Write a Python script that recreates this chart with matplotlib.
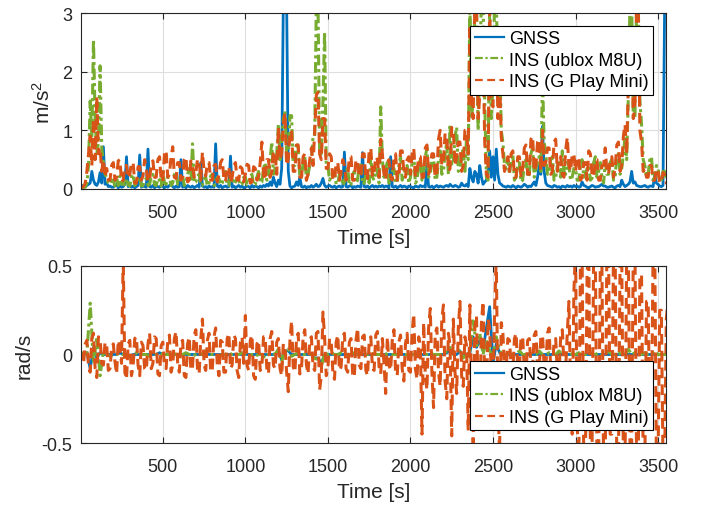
import numpy as np
import matplotlib
matplotlib.use("Agg")
import matplotlib.pyplot as plt

plt.rcParams['font.family'] = ['Liberation Sans', 'DejaVu Sans']
plt.rcParams['mathtext.fontset'] = 'custom'
plt.rcParams['mathtext.rm'] = 'Liberation Sans'
plt.rcParams['mathtext.it'] = 'Liberation Sans'

# sample times [s]: the noisy series every 10 s, the quiet ones every 20 s
time10 = np.arange(360) * 10
time20 = np.arange(180) * 20

labels = ['GNSS', 'INS (ublox M8U)', 'INS (G Play Mini)']

# --- acceleration error [m/s^2], 10 s samples ---
acc_gnss = [
    0.05, 0.06, 0.05, 0.04, 0.06, 0.08, 0.10, 0.30, 0.15, 0.08, 0.06, 0.12, 0.28, 0.10, 0.72, 0.08, 0.10, 0.04, 0.05, 0.03,
    0.03, 0.06, 0.08, 0.02, 0.05, 0.03, 0.04, 0.08, 0.55, 0.04, 0.06, 0.03, 0.05, 0.02, 0.04, 0.06, 0.58, 0.03, 0.05, 0.04,
    0.03, 0.68, 0.04, 0.03, 0.06, 0.02, 0.05, 0.04, 0.03, 0.06, 0.04, 0.02, 0.05, 0.03, 0.06, 0.08, 0.04, 0.02, 0.05, 0.03,
    0.04, 0.50, 0.03, 0.05, 0.02, 0.06, 0.04, 0.03, 0.05, 0.02, 0.04, 0.06, 0.03, 0.45, 0.05, 0.03, 0.04, 0.02, 0.05, 0.03,
    0.04, 0.03, 0.77, 0.05, 0.03, 0.06, 0.02, 0.04, 0.05, 0.03, 0.04, 0.56, 0.03, 0.05, 0.02, 0.04, 0.06, 0.03, 0.05, 0.02,
    0.03, 0.05, 0.04, 0.02, 0.06, 0.03, 0.05, 0.04, 0.02, 0.05, 0.03, 0.06, 0.04, 0.08, 0.05, 0.12, 0.06, 0.20, 0.10, 0.04,
    0.15, 0.08, 0.35, 3.20, 3.20, 3.20, 0.30, 0.05, 0.02, 0.04, 0.05, 0.12, 0.06, 0.20, 0.04, 0.03, 0.05, 0.02, 0.04, 0.03,
    0.06, 0.03, 0.05, 0.08, 0.04, 0.05, 0.10, 0.18, 0.06, 0.03, 0.05, 0.06, 0.04, 0.03, 0.05, 0.02, 0.04, 0.05, 0.03, 0.04,
    0.63, 0.04, 0.03, 0.05, 0.06, 0.02, 0.04, 0.03, 0.05, 0.04, 0.03, 0.62, 0.04, 0.03, 0.05, 0.02, 0.04, 0.06, 0.03, 0.05,
    0.03, 0.05, 0.04, 0.06, 0.03, 0.05, 0.04, 0.02, 0.55, 0.04, 0.03, 0.05, 0.02, 0.04, 0.06, 0.03, 0.05, 0.04, 0.02, 0.05,
    0.04, 0.03, 0.02, 0.05, 0.04, 0.03, 0.06, 0.04, 0.05, 0.03, 0.42, 0.04, 0.03, 0.05, 0.02, 0.04, 0.06, 0.03, 0.05, 0.04,
    0.03, 0.05, 0.06, 0.04, 0.08, 0.05, 0.04, 0.06, 0.05, 0.03, 0.04, 0.10, 0.06, 0.05, 0.08, 0.04, 0.35, 0.20, 0.12, 0.30,
    0.25, 0.10, 0.40, 0.20, 0.08, 0.12, 0.15, 0.30, 0.65, 0.20, 0.55, 0.15, 0.68, 0.25, 0.10, 0.08, 0.05, 0.04, 0.03, 0.05,
    0.04, 0.03, 0.06, 0.04, 0.02, 0.05, 0.04, 0.03, 0.05, 0.08, 0.06, 0.03, 0.05, 0.04, 0.08, 0.12, 0.06, 0.20, 0.40, 0.25,
    1.07, 0.30, 0.10, 0.06, 0.05, 0.04, 0.03, 0.06, 0.05, 0.03, 0.04, 0.02, 0.05, 0.04, 0.03, 0.06, 0.04, 0.05, 0.03, 0.06,
    0.04, 0.05, 0.03, 0.04, 0.12, 0.06, 0.05, 0.03, 0.02, 0.04, 0.06, 0.05, 0.03, 0.04, 0.04, 0.06, 0.08, 0.05, 0.05, 0.03,
    0.03, 0.04, 0.05, 0.03, 0.02, 0.05, 0.06, 0.04, 0.15, 0.08, 0.04, 0.06, 0.08, 0.12, 0.30, 0.10, 0.12, 0.06, 0.05, 0.04,
    0.04, 0.05, 0.06, 0.04, 0.03, 0.05, 0.05, 0.04, 0.25, 0.10, 0.08, 0.05, 0.04, 0.06, 3.20, 3.20, 3.20, 3.20, 3.20, 3.20,
]
acc_ublox = [
    0.02, 0.02, 0.03, 0.03, 0.10, 0.40, 1.50, 0.90, 2.55, 1.20, 0.60, 0.80, 2.10, 0.70, 0.45, 0.25, 0.20, 0.10, 0.08, 0.15,
    0.15, 0.05, 0.20, 0.06, 0.22, 0.08, 0.12, 0.05, 0.18, 0.07, 0.05, 0.20, 0.25, 0.06, 0.10, 0.18, 0.20, 0.05, 0.06, 0.15,
    0.18, 0.06, 0.08, 0.22, 0.25, 0.07, 0.06, 0.18, 0.15, 0.05, 0.30, 0.10, 0.08, 0.20, 0.20, 0.06, 0.10, 0.25, 0.28, 0.08,
    0.08, 0.20, 0.22, 0.06, 0.10, 0.25, 0.35, 0.12, 0.77, 0.10, 0.12, 0.22, 0.25, 0.06, 0.06, 0.18, 0.20, 0.05, 0.10, 0.22,
    0.25, 0.06, 0.08, 0.20, 0.18, 0.07, 0.10, 0.25, 0.30, 0.06, 0.06, 0.20, 0.22, 0.08, 0.12, 0.18, 0.15, 0.06, 0.08, 0.20,
    0.20, 0.07, 0.10, 0.22, 0.25, 0.06, 0.07, 0.20, 0.30, 0.10, 0.12, 0.35, 0.45, 0.15, 0.20, 0.50, 0.80, 0.25, 0.35, 0.60,
    1.10, 0.50, 0.85, 1.20, 1.30, 0.60, 0.60, 1.25, 1.25, 0.40, 0.40, 0.80, 0.70, 0.20, 0.20, 0.45, 0.55, 0.15, 0.25, 0.40,
    0.45, 0.90, 0.90, 3.20, 3.20, 0.60, 0.60, 1.50, 2.68, 0.40, 0.40, 0.15, 0.20, 0.30, 0.30, 0.08, 0.10, 0.25, 0.25, 0.06,
    0.12, 0.30, 0.35, 0.06, 0.08, 0.25, 0.30, 0.10, 0.15, 0.40, 0.45, 0.08, 0.10, 0.25, 0.28, 0.10, 0.55, 0.20, 0.15, 0.35,
    0.30, 0.10, 1.40, 0.50, 0.20, 0.35, 0.45, 0.10, 0.15, 0.30, 0.35, 0.12, 0.10, 0.40, 0.55, 0.15, 0.25, 0.35, 0.40, 0.10,
    0.20, 0.45, 0.60, 0.10, 0.15, 0.40, 0.50, 0.15, 0.30, 0.55, 0.70, 0.20, 0.25, 0.50, 0.55, 0.15, 0.20, 0.50, 0.65, 0.25,
    0.30, 0.60, 0.80, 0.25, 1.10, 0.40, 0.45, 0.90, 1.05, 0.30, 0.35, 0.55, 0.70, 0.30, 0.90, 0.50, 3.20, 1.20, 1.50, 3.20,
    3.20, 1.00, 2.20, 3.20, 3.20, 1.50, 0.20, 0.15, 3.20, 1.20, 1.80, 3.20, 3.20, 2.00, 2.50, 1.00, 0.80, 0.40, 0.35, 0.50,
    0.25, 0.50, 0.60, 0.15, 0.20, 0.40, 0.45, 0.12, 0.15, 0.45, 0.50, 0.20, 0.25, 0.60, 0.70, 0.20, 0.35, 0.50, 0.55, 0.30,
    1.90, 0.80, 0.60, 0.25, 0.30, 0.50, 0.55, 0.15, 0.20, 0.40, 0.45, 0.20, 0.65, 0.30, 0.25, 0.45, 0.40, 0.15, 0.20, 0.35,
    0.35, 0.15, 0.15, 0.40, 0.50, 0.20, 0.25, 0.35, 0.40, 0.15, 0.18, 0.45, 0.55, 0.20, 0.30, 0.45, 0.20, 0.10, 0.45, 0.25,
    0.25, 0.45, 0.50, 0.15, 0.20, 0.55, 0.60, 0.25, 0.35, 0.60, 0.90, 0.50, 1.60, 3.20, 3.20, 1.20, 1.20, 3.20, 3.20, 1.50,
    1.10, 0.50, 0.40, 0.20, 0.25, 0.50, 0.55, 0.15, 0.20, 0.40, 0.35, 0.12, 0.15, 0.30, 0.30, 0.15, 0.20, 0.25, 0.25, 0.20,
]
acc_gplay = [
    0.02, 0.03, 0.04, 0.10, 0.30, 0.60, 0.90, 0.40, 1.20, 0.50, 1.57, 0.60, 0.70, 0.30, 0.50, 0.20, 0.35, 0.15, 0.15, 0.40,
    0.45, 0.15, 0.20, 0.48, 0.50, 0.12, 0.15, 0.40, 0.40, 0.18, 0.25, 0.45, 0.45, 0.10, 0.10, 0.38, 0.38, 0.15, 0.22, 0.50,
    0.35, 0.12, 0.15, 0.45, 0.48, 0.20, 0.20, 0.50, 0.55, 0.15, 0.12, 0.60, 0.66, 0.20, 0.25, 0.55, 0.72, 0.20, 0.18, 0.45,
    0.45, 0.15, 0.20, 0.50, 0.55, 0.12, 0.15, 0.48, 0.40, 0.20, 0.28, 0.50, 0.50, 0.15, 0.63, 0.30, 0.22, 0.45, 0.45, 0.15,
    0.15, 0.40, 0.42, 0.12, 0.25, 0.45, 0.50, 0.18, 0.12, 0.35, 0.38, 0.10, 0.20, 0.40, 0.45, 0.15, 0.15, 0.38, 0.35, 0.12,
    0.25, 0.42, 0.40, 0.10, 0.12, 0.38, 0.35, 0.15, 0.20, 0.45, 0.80, 0.25, 0.15, 0.50, 0.50, 0.20, 0.30, 0.65, 0.60, 0.25,
    1.05, 0.50, 0.60, 1.10, 1.30, 0.40, 0.50, 0.95, 1.00, 0.30, 0.30, 0.75, 0.75, 0.20, 0.20, 0.55, 0.60, 0.15, 0.25, 0.50,
    0.70, 0.40, 1.00, 1.60, 1.65, 0.60, 0.50, 1.20, 1.20, 0.35, 0.35, 0.60, 0.55, 0.15, 0.15, 0.45, 0.45, 0.15, 0.30, 0.50,
    0.40, 0.15, 0.20, 0.55, 0.55, 0.15, 0.15, 0.50, 0.48, 0.20, 0.25, 0.60, 0.60, 0.15, 0.18, 0.65, 0.70, 0.20, 0.30, 0.55,
    0.50, 0.20, 0.85, 0.60, 0.25, 0.15, 0.45, 0.50, 0.20, 0.15, 0.55, 0.60, 0.15, 0.20, 0.65, 0.65, 0.30, 0.20, 0.50, 0.55,
    0.25, 0.60, 0.70, 0.20, 0.30, 0.55, 0.55, 0.20, 0.20, 0.70, 0.75, 0.25, 0.35, 0.60, 0.60, 0.20, 0.25, 0.85, 1.00, 0.40,
    0.45, 0.95, 0.90, 0.30, 0.35, 1.05, 1.00, 0.40, 0.55, 0.80, 0.80, 0.30, 0.40, 1.00, 1.00, 0.60, 2.80, 1.50, 1.20, 3.20,
    3.20, 1.20, 1.60, 2.40, 2.40, 0.80, 0.25, 0.20, 3.20, 1.50, 1.40, 2.60, 2.60, 1.20, 1.90, 0.90, 0.60, 0.30, 0.40, 0.55,
    0.30, 0.60, 0.65, 0.20, 0.20, 0.55, 0.55, 0.20, 0.35, 0.70, 0.75, 0.25, 0.25, 0.85, 0.90, 0.30, 0.40, 0.80, 0.85, 0.30,
    1.00, 0.40, 0.45, 0.70, 0.70, 0.25, 0.30, 0.80, 0.85, 0.30, 0.55, 0.55, 0.25, 0.20, 0.65, 0.88, 0.40, 0.30, 0.60, 0.60,
    0.30, 0.50, 0.55, 0.15, 0.20, 0.45, 0.45, 0.15, 0.65, 0.60, 0.25, 0.20, 0.50, 0.50, 0.15, 0.15, 0.40, 0.40, 0.70, 0.30,
    0.25, 0.50, 0.55, 0.20, 0.35, 0.75, 0.80, 0.30, 0.40, 0.90, 1.10, 0.60, 1.80, 2.50, 2.70, 1.20, 1.40, 3.20, 3.20, 1.00,
    0.80, 0.30, 0.35, 0.20, 0.20, 0.40, 0.40, 0.15, 0.15, 0.35, 0.30, 0.10, 0.12, 0.28, 0.25, 0.10, 0.15, 0.22, 0.22, 0.15,
]

# --- angular rate error [rad/s] ---
# GNSS and ublox: 20 s samples
rate_gnss = [
    0.00, 0.00, 0.01, -0.08, 0.04, -0.02, 0.01, 0.00, 0.00, 0.00,
    0.00, 0.00, 0.01, 0.00, 0.00, -0.01, 0.00, 0.00, 0.00, 0.00,
    0.00, 0.00, 0.00, 0.00, 0.01, 0.00, 0.00, 0.00, 0.00, 0.00,
    0.00, 0.00, 0.00, 0.00, 0.00, 0.00, 0.00, 0.00, 0.01, 0.00,
    0.00, 0.00, 0.00, 0.00, 0.00, 0.00, 0.00, 0.00, 0.00, 0.00,
    0.00, 0.00, 0.00, 0.00, 0.00, 0.00, 0.00, 0.00, 0.00, 0.00,
    0.02, -0.03, 0.02, 0.02, 0.00, 0.00, 0.00, 0.00, 0.00, 0.00,
    0.00, -0.02, -0.02, -0.05, 0.00, 0.00, 0.00, 0.00, 0.00, 0.00,
    0.00, 0.00, 0.00, 0.00, 0.00, 0.00, 0.00, 0.00, 0.00, 0.00,
    0.00, 0.00, 0.00, 0.00, 0.00, 0.00, 0.00, 0.00, 0.00, 0.00,
    0.00, 0.00, 0.00, 0.00, 0.00, 0.00, 0.00, 0.00, 0.00, 0.00,
    0.00, 0.01, 0.02, 0.00, 0.00, 0.02, -0.01, 0.00, 0.01, 0.10,
    0.04, 0.08, 0.02, 0.15, 0.27, -0.05, 0.06, 0.01, 0.00, 0.00,
    0.00, 0.00, 0.00, 0.00, 0.00, 0.00, 0.00, 0.00, 0.00, 0.00,
    0.00, 0.00, 0.00, 0.00, 0.00, 0.00, 0.00, 0.00, 0.00, 0.00,
    0.00, 0.00, 0.00, 0.00, 0.00, 0.00, 0.00, 0.00, 0.00, 0.00,
    0.00, 0.00, 0.00, 0.00, 0.00, 0.00, 0.00, 0.00, 0.00, 0.00,
    0.00, 0.00, 0.00, 0.00, 0.00, 0.00, 0.00, 0.00, 0.00, 0.00,
]
rate_ublox = [
    0.00, 0.01, 0.00, 0.29, -0.05, 0.10, -0.12, 0.02, 0.00, -0.01,
    0.00, 0.00, 0.01, 0.00, 0.00, -0.01, 0.00, 0.01, 0.00, 0.00,
    0.00, -0.01, 0.00, 0.00, 0.01, 0.00, 0.00, 0.00, 0.01, 0.00,
    0.00, 0.00, 0.01, 0.00, -0.01, 0.00, 0.01, 0.00, 0.02, 0.00,
    0.00, 0.00, -0.01, 0.00, 0.00, 0.01, 0.00, 0.00, 0.00, 0.01,
    0.00, 0.00, 0.00, -0.01, 0.00, 0.00, -0.02, 0.00, 0.01, 0.00,
    0.03, -0.04, 0.02, 0.03, -0.01, 0.00, 0.01, 0.00, 0.00, 0.01,
    0.00, -0.02, -0.03, -0.07, 0.01, 0.00, 0.01, 0.00, 0.00, 0.01,
    0.00, 0.00, 0.00, 0.01, 0.00, 0.00, 0.00, 0.00, 0.01, 0.00,
    0.00, 0.00, 0.01, 0.00, 0.00, 0.00, 0.00, 0.01, 0.00, 0.00,
    0.00, 0.00, 0.01, 0.00, 0.00, 0.00, 0.01, 0.00, 0.00, 0.00,
    0.00, 0.02, 0.04, 0.00, 0.01, 0.03, -0.02, 0.00, 0.02, 0.19,
    0.05, 0.12, 0.00, 0.08, 0.02, 0.00, 0.10, 0.02, 0.00, 0.00,
    0.01, 0.00, 0.00, 0.02, 0.00, 0.00, 0.01, 0.00, 0.00, 0.02,
    0.00, 0.00, 0.01, 0.00, 0.00, 0.02, 0.00, 0.00, 0.01, 0.00,
    0.00, 0.01, 0.00, 0.00, 0.02, 0.00, 0.00, 0.01, 0.00, 0.00,
    0.02, 0.00, 0.00, 0.01, 0.00, 0.00, 0.03, 0.00, 0.01, 0.00,
    0.00, 0.01, 0.00, 0.00, 0.02, 0.00, 0.00, 0.00, 0.00, 0.00,
]
# G Play Mini: 10 s samples
rate_gplay = [
    0.03, -0.02, -0.05, 0.06, 0.08, -0.07, -0.10, 0.09, 0.12, -0.08, -0.13, 0.10, 0.09, -0.05, -0.06, 0.07, 0.05, -0.09, -0.08, 0.04,
    0.06, -0.04, -0.11, 0.08, 0.04, -0.05, 0.55, -0.10, -0.14, 0.06, 0.08, -0.12, -0.07, 0.09, 0.10, -0.06, -0.12, 0.07, 0.05, -0.08,
    -0.09, 0.06, 0.12, -0.08, -0.05, 0.10, 0.09, -0.11, -0.12, 0.05, 0.07, -0.07, -0.08, 0.08, 0.11, -0.10, -0.06, 0.09, 0.13, -0.05,
    -0.10, 0.07, 0.08, -0.12, -0.13, 0.06, 0.10, -0.09, -0.07, 0.11, 0.14, -0.08, -0.11, 0.09, 0.20, -0.06, -0.09, 0.08, 0.12, -0.10,
    -0.08, 0.10, 0.15, -0.06, -0.12, 0.08, 0.07, -0.10, -0.10, 0.09, 0.12, -0.08, -0.06, 0.11, 0.09, -0.09, -0.13, 0.07, 0.10, -0.05,
    0.22, -0.06, -0.09, 0.08, 0.11, -0.12, -0.14, 0.06, 0.08, -0.09, -0.07, 0.10, 0.10, -0.08, -0.11, 0.09, 0.13, -0.06, -0.08, 0.07,
    0.09, -0.08, -0.12, 0.06, 0.05, -0.10, -0.21, 0.08, 0.19, -0.07, -0.10, 0.09, 0.12, -0.11, -0.08, 0.10, 0.14, -0.06, -0.11, 0.08,
    0.10, -0.07, -0.09, 0.12, 0.13, -0.20, -0.12, 0.24, 0.10, -0.12, -0.08, 0.09, 0.08, -0.10, -0.14, 0.07, 0.11, -0.09, -0.07, 0.10,
    0.12, -0.08, -0.10, 0.07, 0.09, -0.11, -0.13, 0.08, 0.15, -0.06, -0.08, 0.10, 0.11, -0.09, -0.12, 0.07, 0.10, -0.08, -0.09, 0.11,
    0.13, -0.07, -0.11, 0.09, -0.05, -0.22, 0.10, -0.06, -0.09, 0.08, 0.14, -0.10, -0.12, 0.07, 0.11, -0.08, -0.15, 0.06, 0.12, -0.09,
    -0.10, 0.12, 0.23, -0.08, -0.14, 0.10, 0.05, -0.45, 0.18, -0.12, -0.20, 0.15, 0.26, -0.10, -0.30, 0.12, 0.15, -0.10, -0.18, 0.20,
    0.28, -0.15, -0.25, 0.12, 0.05, -0.46, 0.20, -0.10, -0.22, 0.15, 0.30, -0.12, -0.18, 0.10, 0.05, -0.43, 0.28, -0.20, -0.50, 0.15,
    0.22, -0.20, -0.35, 0.18, 0.30, -0.15, -0.28, 0.20, 0.15, -0.12, -0.20, 0.25, 0.55, -0.30, -0.55, 0.18, 0.12, -0.08, -0.10, 0.09,
    0.08, -0.06, -0.10, 0.09, 0.12, -0.07, -0.08, 0.10, 0.10, -0.09, -0.12, 0.08, 0.09, -0.06, -0.07, 0.11, 0.13, -0.08, -0.09, 0.10,
    0.11, -0.07, -0.08, 0.12, 0.15, -0.09, -0.10, 0.08, 0.09, -0.11, -0.12, 0.10, 0.14, -0.06, -0.09, 0.12, 0.30, -0.20, -0.45, 0.35,
    0.60, -0.40, -0.60, 0.55, 0.55, -0.60, -0.60, 0.45, 0.60, -0.50, -0.55, 0.60, 0.60, -0.60, -0.60, 0.50, 0.50, -0.60, -0.60, 0.60,
    0.60, -0.45, -0.45, 0.60, 0.60, -0.60, -0.60, 0.55, 0.55, -0.60, -0.60, 0.60, 0.60, -0.50, -0.50, 0.60, 0.60, -0.60, -0.60, 0.45,
    0.45, -0.60, -0.60, 0.30, 0.30, -0.40, -0.40, 0.60, 0.60, -0.60, -0.60, 0.25, 0.25, -0.60, -0.60, 0.20, 0.30, -0.10, -0.10, 0.05,
]

colors = ['#0072BD', '#77AC30', '#D95319']
dark = '#262626'
legend_loc = {'m/s$^2$': 'upper right', 'rad/s': 'lower right'}


def draw(ax, t_gnss, y_gnss, t_ublox, y_ublox, t_gplay, y_gplay):
    ax.plot(t_gnss, y_gnss, color=colors[0], lw=2.0, label=labels[0])
    ax.plot(t_ublox, y_ublox, color=colors[1], lw=2.2, dashes=(3.5, 1.2, 1, 1.2),
            label=labels[1])
    ax.plot(t_gplay, y_gplay, color=colors[2], lw=2.2, dashes=(3.5, 2),
            label=labels[2])


def style_axes(ax, ylim, yticks, yticklabels, ylabel):
    ax.set_xlim(4, 3548)
    ax.set_ylim(*ylim)
    ax.set_xticks([500, 1000, 1500, 2000, 2500, 3000, 3500])
    ax.set_yticks(yticks)
    ax.set_yticklabels(yticklabels)
    ax.grid(True, color='#dedede', linewidth=0.8)
    ax.set_axisbelow(True)
    ax.tick_params(direction='in', length=4, width=0.8, top=True, right=True,
                   labelsize=13, colors=dark, pad=6)
    ax.tick_params(axis='x', pad=11)
    for s in ax.spines.values():
        s.set_color(dark)
        s.set_linewidth(0.8)
    ax.set_xlabel('Time [s]', fontsize=15, color=dark, labelpad=5)
    ax.set_ylabel(ylabel, fontsize=15, color=dark, labelpad=6)
    leg = ax.legend(loc=legend_loc[ylabel], fontsize=13, frameon=True,
                    fancybox=False, edgecolor='black', framealpha=1,
                    handlelength=1.6, handletextpad=0.3, labelspacing=0.25,
                    borderpad=0.25, borderaxespad=0.7)
    leg.get_frame().set_linewidth(0.8)
    for h in leg.get_lines():
        h.set_linewidth(1.6)


fig = plt.figure(figsize=(7.1, 5.1), dpi=100)
ax1 = fig.add_axes([0.114, 0.6275, 0.824, 0.345])
ax2 = fig.add_axes([0.114, 0.1294, 0.824, 0.3471])

draw(ax1, time10, acc_gnss, time10, acc_ublox, time10, acc_gplay)
style_axes(ax1, (0, 3), [0, 1, 2, 3], ['0', '1', '2', '3'], 'm/s$^2$')

draw(ax2, time20, rate_gnss, time20, rate_ublox, time10, rate_gplay)
style_axes(ax2, (-0.5, 0.5), [-0.5, 0, 0.5], ['-0.5', '0', '0.5'], 'rad/s')

fig.savefig('out.png', dpi=100)
